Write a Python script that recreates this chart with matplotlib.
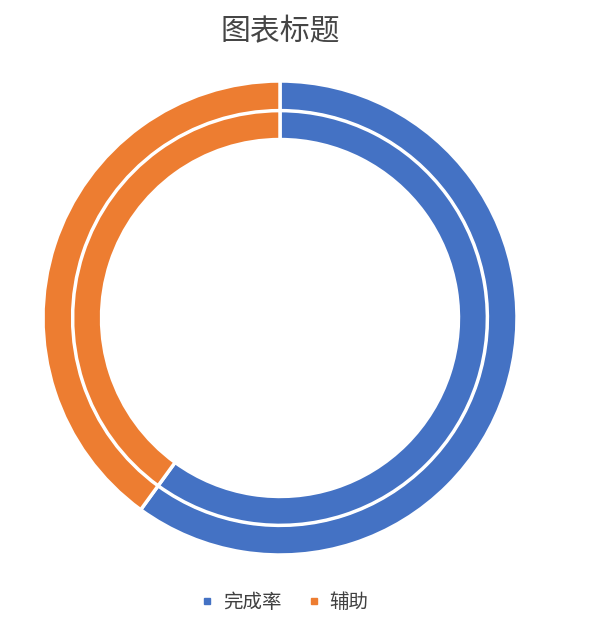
import matplotlib.pyplot as plt
from matplotlib.lines import Line2D

plt.rcParams['font.family'] = ['Noto Sans CJK SC', 'DejaVu Sans']

# data
labels = ["完成率", "辅助"]
outer_values = [0.6, 0.4]
inner_values = [0.6, 0.4]
colors = ["#4472C4", "#ED7D31"]
title = "图表标题"

W, H = 604, 620
fig = plt.figure(figsize=(W / 100, H / 100), dpi=100)
fig.patch.set_facecolor("white")

# pie center ~ (280, 318) px, radius ~ 237 px
cx, cy, r = 280, 318, 237
ax = fig.add_axes([(cx - r) / W, (H - cy - r) / H, 2 * r / W, 2 * r / H])

wp = dict(edgecolor="white", linewidth=2.5)
ax.pie(outer_values, colors=colors, startangle=90, counterclock=False,
       radius=1.0, wedgeprops=dict(width=0.128, **wp))
ax.pie(inner_values, colors=colors, startangle=90, counterclock=False,
       radius=0.875, wedgeprops=dict(width=0.122, **wp))
ax.set_xlim(-1, 1)
ax.set_ylim(-1, 1)
ax.set_aspect("equal")
ax.axis("off")

fig.text(cx / W, 1 - 32 / H, title, ha="center", va="center",
         fontsize=21.5, color="#454545")

handles = [Line2D([0], [0], marker="s", linestyle="", markersize=5,
                  markerfacecolor=c, markeredgecolor=c) for c in colors]
fig.legend(handles, labels, loc="center", bbox_to_anchor=(284 / W, 1 - 602 / H),
           ncol=2, frameon=False, fontsize=14, labelcolor="#404040",
           handlelength=0.8, handletextpad=0.4, columnspacing=1.3)

fig.savefig("out.png", dpi=100)
